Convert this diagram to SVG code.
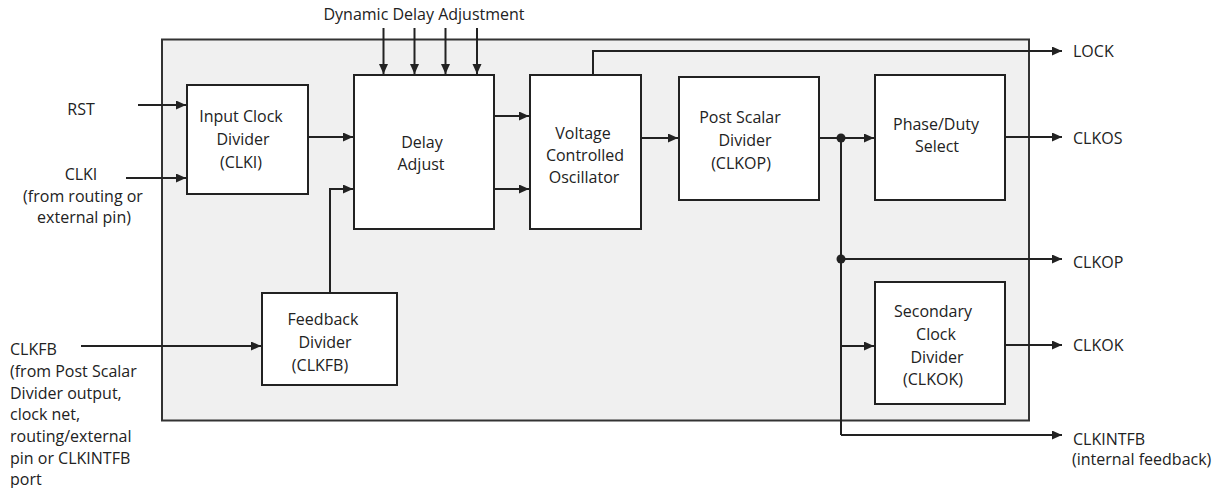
<svg xmlns="http://www.w3.org/2000/svg" width="1222" height="488" viewBox="0 0 1222 488">
<style>
text{font-family:"Open Sans","Liberation Sans",sans-serif;font-size:16px;fill:#222}
.m{text-anchor:middle}
.box{fill:#fff;stroke:#222;stroke-width:2}
.outer{fill:#f0f0f0;stroke:#333;stroke-width:2}
.w{fill:none;stroke:#222;stroke-width:2}
.a{marker-end:url(#arr)}
</style>
<defs>
<marker id="arr" markerUnits="userSpaceOnUse" markerWidth="11" markerHeight="10" refX="10" refY="4.5" orient="auto">
<path d="M0,0 L10,4.5 L0,9 z" fill="#222"/>
</marker>
</defs>
<rect id="pll" class="outer" x="162" y="39.5" width="867" height="381"/>
<g id="connectors">
<path class="w a" d="M383.5,28 V74"/>
<path class="w a" d="M414.5,28 V74"/>
<path class="w a" d="M445.5,28 V74"/>
<path class="w a" d="M477,28 V74"/>
<path class="w a" d="M138,105 H186"/>
<path class="w a" d="M126,178 H186"/>
<path class="w a" d="M308,137 H353"/>
<path class="w a" d="M330,293 V189 H353"/>
<path class="w a" d="M81,346 H261"/>
<path class="w a" d="M494,116 H529"/>
<path class="w a" d="M494,189 H529"/>
<path class="w a" d="M593,75 V51 H1062"/>
<path class="w a" d="M641,138 H678"/>
<path class="w a" d="M819,138 H874"/>
<path class="w a" d="M1005,137 H1062"/>
<path class="w" d="M841,138 V435"/>
<path class="w a" d="M841,259 H1062"/>
<path class="w a" d="M841,346 H874"/>
<path class="w a" d="M1005,345 H1062"/>
<path class="w a" d="M841,435 H1062"/>
<circle cx="841" cy="138" r="4.5" fill="#222"/>
<circle cx="841" cy="259" r="4.5" fill="#222"/>
</g>
<g id="input-clock-divider">
<rect class="box" x="187" y="85" width="121" height="109"/>
<text class="m" x="241" y="122">Input Clock</text>
<text class="m" x="243" y="145">Divider</text>
<text class="m" x="241" y="168">(CLKI)</text>
</g>
<g id="delay-adjust">
<rect class="box" x="354" y="75" width="140" height="154"/>
<text class="m" x="422" y="148">Delay</text>
<text class="m" x="421" y="170">Adjust</text>
</g>
<g id="vco">
<rect class="box" x="530" y="75" width="111" height="154"/>
<text class="m" x="583" y="139">Voltage</text>
<text class="m" x="585" y="161">Controlled</text>
<text class="m" x="584" y="183">Oscillator</text>
</g>
<g id="post-scalar-divider">
<rect class="box" x="679" y="77" width="140" height="123"/>
<text class="m" x="740" y="123">Post Scalar</text>
<text class="m" x="745" y="146">Divider</text>
<text class="m" x="741" y="169">(CLKOP)</text>
</g>
<g id="phase-duty-select">
<rect class="box" x="875" y="75" width="130" height="125"/>
<text class="m" x="936" y="130">Phase/Duty</text>
<text class="m" x="937" y="152">Select</text>
</g>
<g id="secondary-clock-divider">
<rect class="box" x="875" y="282" width="130" height="122"/>
<text class="m" x="933" y="317">Secondary</text>
<text class="m" x="936" y="340">Clock</text>
<text class="m" x="937" y="363">Divider</text>
<text class="m" x="933" y="385">(CLKOK)</text>
</g>
<g id="feedback-divider">
<rect class="box" x="262" y="293" width="135" height="92"/>
<text class="m" x="323" y="325">Feedback</text>
<text class="m" x="325" y="348">Divider</text>
<text class="m" x="320" y="371">(CLKFB)</text>
</g>
<g id="labels">
<text class="m" x="424" y="20">Dynamic Delay Adjustment</text>
<text class="m" x="81" y="115">RST</text>
<text class="m" x="81" y="180">CLKI</text>
<text class="m" x="83" y="202">(from routing or</text>
<text class="m" x="84" y="223">external pin)</text>
<text x="10" y="355">CLKFB</text>
<text x="10" y="377">(from Post Scalar</text>
<text x="10" y="399">Divider output,</text>
<text x="10" y="420">clock net,</text>
<text x="10" y="442">routing/external</text>
<text x="10" y="464">pin or CLKINTFB</text>
<text x="10" y="485">port</text>
<text x="1073" y="57">LOCK</text>
<text x="1073" y="144">CLKOS</text>
<text x="1073" y="268">CLKOP</text>
<text x="1073" y="351">CLKOK</text>
<text x="1073" y="445">CLKINTFB</text>
<text x="1072" y="465">(internal feedback)</text>
</g>
</svg>
